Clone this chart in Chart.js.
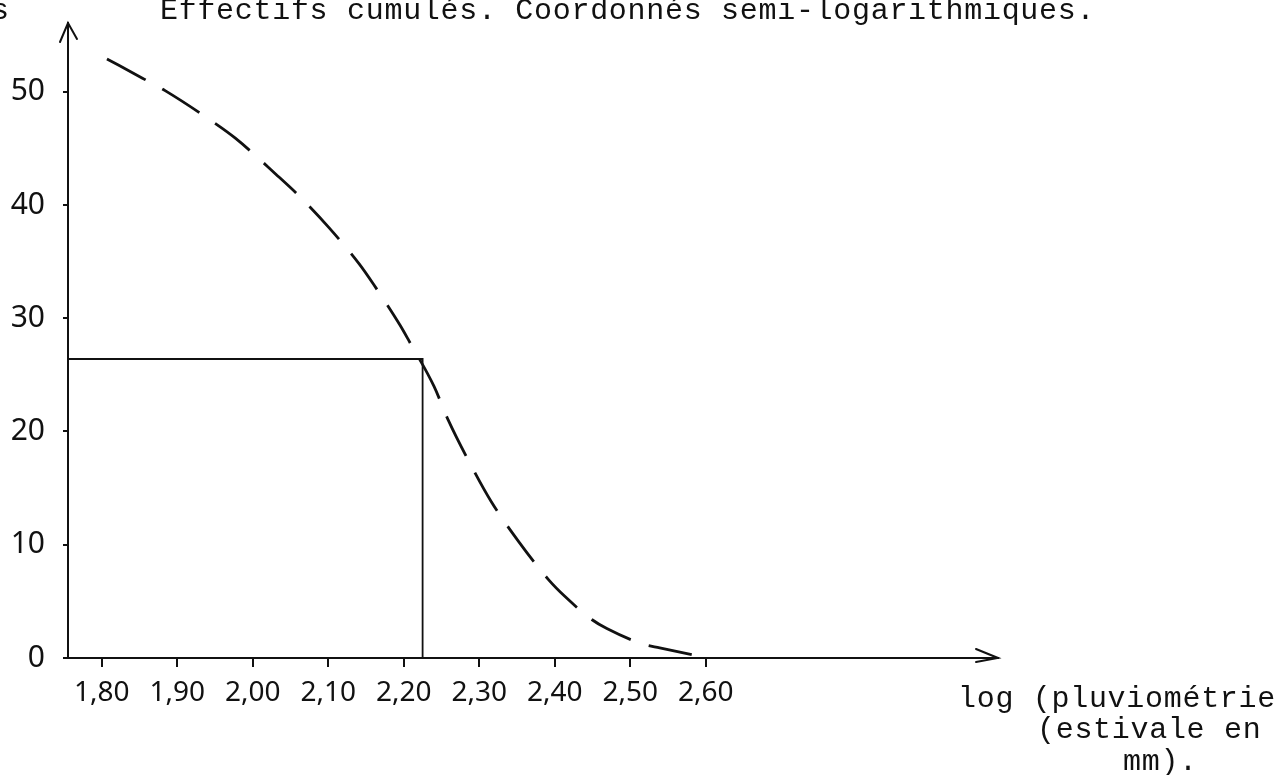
<!DOCTYPE html>
<html>
<head>
<meta charset="utf-8">
<script src="https://cdn.jsdelivr.net/npm/chart.js@4.4.1/dist/chart.umd.min.js"></script>
<style>
  html, body { margin: 0; padding: 0; background: #fff; }
  #wrap { width: 1283px; height: 775px; }
</style>
</head>
<body>
<div id="wrap"><canvas id="chart" width="1283" height="775"></canvas></div>
<script>
// ----- Data -----
const X_MIN = 1.7554;
const X_MAX = 2.987;
const Y_MIN = 0;
const Y_MAX = 56.07;

const xTickValues = [1.80, 1.90, 2.00, 2.10, 2.20, 2.30, 2.40, 2.50, 2.60];
const yTickValues = [0, 10, 20, 30, 40, 50];

// dashed curve (effectifs cumulés)
const curveX = [1.807, 1.854, 1.884, 1.946, 1.977, 2.031, 2.063, 2.101, 2.141, 2.160, 2.195,
                2.207, 2.240, 2.259, 2.290, 2.316, 2.352, 2.392, 2.414, 2.449, 2.469, 2.518, 2.539, 2.588];
const curveY = [52.9, 51.2, 50.1, 47.4, 45.9, 42.7, 40.7, 38.0, 34.8, 33.0, 29.4,
                28.0, 24.0, 21.0, 16.9, 13.8, 10.3, 6.9, 5.4, 3.4, 2.6, 1.2, 0.9, 0.2];

// reading lines (median)
const refX = [X_MIN, 2.225, 2.225];
const refY = [26.4, 26.4, 0];

const titleText = "Effectifs cumulés. Coordonnés semi-logarithmiques.";
const yTitleText = "s";
const xTitleLines = ["log (pluviométrie", "(estivale en", "mm)."];

// Helpers
function toPoints(xs, ys) {
  return xs.map((x, i) => ({ x: x, y: ys[i] }));
}

function formatComma(v) {
  return Number(v).toFixed(2).replace(".", ",");
}

// ----- Decorations: arrows and texts -----
const decor = {
  id: "decor",
  afterDraw(chart) {
    const ctx = chart.ctx;
    const a = chart.chartArea;
    ctx.save();
    ctx.strokeStyle = "#111";
    ctx.lineWidth = 2;
    ctx.lineCap = "round";

    // y axis arrow (top)
    ctx.beginPath();
    ctx.moveTo(a.left - 8, a.top + 19);
    ctx.lineTo(a.left, a.top);
    ctx.lineTo(a.left + 9, a.top + 16);
    ctx.stroke();

    // x axis arrow (right)
    ctx.beginPath();
    ctx.moveTo(a.right - 22, a.bottom - 9);
    ctx.lineTo(a.right, a.bottom);
    ctx.lineTo(a.right - 22, a.bottom + 4);
    ctx.stroke();

    // texts (typewriter)
    ctx.fillStyle = "#111";
    ctx.font = "30px 'Liberation Mono', 'DejaVu Sans Mono', monospace";
    ctx.letterSpacing = "0.7px";
    ctx.textBaseline = "alphabetic";
    ctx.textAlign = "left";
    ctx.fillText(titleText, 160, 19);
    ctx.fillText(yTitleText, -9, 19);

    ctx.fillText(xTitleLines[0], 958, 707);
    ctx.fillText(xTitleLines[1], 1037, 738);
    ctx.fillText(xTitleLines[2], 1123, 770);
    ctx.restore();
  }
};

// ----- Chart -----
const ctx = document.getElementById("chart").getContext("2d");
new Chart(ctx, {
  type: "line",
  data: {
    datasets: [
      {
        label: "Effectifs cumulés",
        data: toPoints(curveX, curveY),
        borderColor: "#111",
        borderWidth: 2.8,
        borderDash: [44, 19],
        pointRadius: 0,
        cubicInterpolationMode: "monotone",
        fill: false
      },
      {
        label: "Lecture",
        data: toPoints(refX, refY),
        borderColor: "#111",
        borderWidth: 1.8,
        pointRadius: 0,
        tension: 0,
        fill: false
      }
    ]
  },
  options: {
    responsive: false,
    animation: false,
    devicePixelRatio: 1,
    layout: { padding: { top: 23, right: 285, left: 0, bottom: 0 } },
    plugins: {
      legend: { display: false },
      title: { display: false },
      tooltip: { enabled: false }
    },
    scales: {
      x: {
        type: "linear",
        min: X_MIN,
        max: X_MAX,
        afterBuildTicks: (scale) => { scale.ticks = xTickValues.map(v => ({ value: v })); },
        afterFit: (scale) => {
          scale.height = 117;
          scale.paddingLeft = 0;
          scale.paddingRight = 0;
        },
        grid: {
          display: true,
          drawOnChartArea: false,
          drawTicks: true,
          tickLength: 9,
          color: "#111",
          lineWidth: 2
        },
        border: { display: true, color: "#111", width: 2 },
        ticks: {
          autoSkip: false,
          maxRotation: 0,
          padding: 9,
          color: "#111",
          font: { family: "'Noto Sans', 'DejaVu Sans', sans-serif", size: 28 },
          callback: (v) => formatComma(v)
        }
      },
      y: {
        type: "linear",
        min: Y_MIN,
        max: Y_MAX,
        afterBuildTicks: (scale) => { scale.ticks = yTickValues.map(v => ({ value: v })); },
        afterFit: (scale) => {
          scale.width = 68;
          scale.paddingTop = 0;
          scale.paddingBottom = 0;
        },
        grid: {
          display: true,
          drawOnChartArea: false,
          drawTicks: true,
          tickLength: 5,
          color: "#111",
          lineWidth: 2
        },
        border: { display: true, color: "#111", width: 2 },
        ticks: {
          padding: 18,
          color: "#111",
          font: { family: "'Noto Sans', 'DejaVu Sans', sans-serif", size: 30 }
        }
      }
    }
  },
  plugins: [decor]
});
</script>
</body>
</html>
